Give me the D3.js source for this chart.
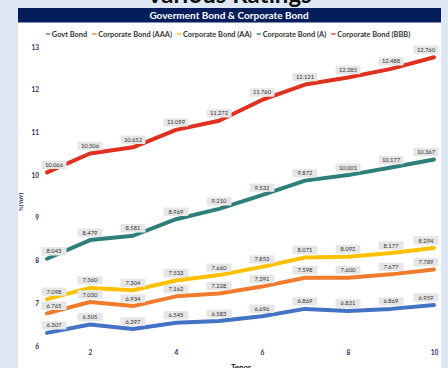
<!DOCTYPE html>
<html>
<head>
<meta charset="utf-8">
<script src="https://cdn.jsdelivr.net/npm/d3@7"></script>
<style>
  html, body { margin: 0; padding: 0; background: #dde8f4; }
  svg { display: block; }
</style>
</head>
<body>
<svg id="chart"></svg>
<script>
// tenor (years)
const tenors = [1, 2, 3, 4, 5, 6, 7, 8, 9, 10];

// yields per rating, %(YoY)
const govtBond = [6.307, 6.505, 6.397, 6.545, 6.583, 6.696, 6.869, 6.821, 6.869, 6.959];
const corpAAA  = [6.765, 7.030, 6.934, 7.162, 7.228, 7.391, 7.598, 7.600, 7.677, 7.789];
const corpAA   = [7.098, 7.360, 7.304, 7.533, 7.660, 7.853, 8.071, 8.092, 8.177, 8.294];
const corpA    = [8.043, 8.479, 8.581, 8.969, 9.210, 9.532, 9.872, 10.001, 10.177, 10.367];
const corpBBB  = [10.066, 10.506, 10.652, 11.059, 11.272, 11.760, 12.121, 12.285, 12.488, 12.760];

const seriesNames = ["Govt Bond", "Corporate Bond (AAA)", "Corporate Bond (AA)", "Corporate Bond (A)", "Corporate Bond (BBB)"];
const seriesValues = [govtBond, corpAAA, corpAA, corpA, corpBBB];

const yTicks = [6, 7, 8, 9, 10, 11, 12, 13];
const xTicks = [2, 4, 6, 8, 10];

const W = 448, H = 368;
const COLORS = ["#4472c4", "#f07b2c", "#ffc000", "#2e7f79", "#e0301f"];
const NAVY = "#1f2d5c";

const svg = d3.select("#chart").attr("width", W).attr("height", H);

// page title, mostly hidden above the panel
svg.append("text")
    .attr("x", 229).attr("y", 3)
    .attr("text-anchor", "middle")
    .attr("font-family", "Lato, sans-serif")
    .attr("font-weight", "bold")
    .attr("font-size", 24)
    .attr("fill", "#111")
    .text("Various Ratings");

// white panel
svg.append("rect")
    .attr("x", 18).attr("y", 8)
    .attr("width", 423).attr("height", H - 8)
    .attr("fill", "#fff");

// header bar
svg.append("rect")
    .attr("x", 18).attr("y", 8)
    .attr("width", 423).attr("height", 14.5)
    .attr("fill", "#041e5c");

svg.append("text")
    .attr("x", 229).attr("y", 19)
    .attr("text-anchor", "middle")
    .attr("font-family", "Lato, sans-serif")
    .attr("font-weight", "bold")
    .attr("font-size", 10)
    .attr("fill", "#fff")
    .text("Goverment Bond & Corporate Bond");

// legend
const legend = svg.append("g");
let lx = 0;
seriesNames.forEach((name, i) => {
    const item = legend.append("g").attr("transform", `translate(${lx},0)`);
    item.append("line")
        .attr("x1", 0).attr("x2", 4.5)
        .attr("y1", 0).attr("y2", 0)
        .attr("stroke", COLORS[i]).attr("stroke-width", 1.3);
    const t = item.append("text")
        .attr("x", 6).attr("y", 2.5)
        .attr("font-family", "Lato, sans-serif")
        .attr("font-size", 7.4)
        .attr("font-weight", "bold")
        .attr("fill", "#333")
        .text(name);
    lx += 6 + t.node().getComputedTextLength() + 5;
});
legend.attr("transform", `translate(${228 - (lx - 5) / 2},34)`);

// scales
const x = d3.scaleLinear().domain([1, 10]).range([47, 434]);
const y = d3.scaleLinear().domain([6, 13]).range([346, 47]);

// axes (labels only)
const yAxis = svg.append("g")
    .attr("transform", "translate(39,0)")
    .call(d3.axisLeft(y).tickValues(yTicks).tickSize(0).tickPadding(0).tickFormat(d3.format("d")));
const xAxis = svg.append("g")
    .attr("transform", "translate(0,350)")
    .call(d3.axisBottom(x).tickValues(xTicks).tickSize(0).tickPadding(0).tickFormat(d3.format("d")));
[yAxis, xAxis].forEach(ax => {
    ax.select(".domain").remove();
    ax.selectAll("text")
        .attr("font-family", "Lato, sans-serif")
        .attr("font-size", 6.5)
        .attr("font-weight", "bold")
        .attr("fill", NAVY);
});

svg.append("text")
    .attr("transform", "translate(23,202) rotate(-90)")
    .attr("text-anchor", "middle")
    .attr("font-family", "Lato, sans-serif")
    .attr("font-size", 6)
    .attr("font-weight", "bold")
    .attr("fill", NAVY)
    .text("%(YoY)");

svg.append("text")
    .attr("x", 241).attr("y", 370)
    .attr("text-anchor", "middle")
    .attr("font-family", "Lato, sans-serif")
    .attr("font-size", 8)
    .attr("font-weight", "bold")
    .attr("fill", "#111")
    .text("Tenor");

// lines
const line = d3.line()
    .x((d, i) => x(tenors[i]))
    .y(d => y(d));

svg.append("g")
    .selectAll("path")
    .data(seriesValues)
    .enter()
    .append("path")
    .attr("d", line)
    .attr("fill", "none")
    .attr("stroke", (d, i) => COLORS[i])
    .attr("stroke-width", 4)
    .attr("stroke-linejoin", "round")
    .attr("stroke-linecap", "round");

// data labels, end ones nudged inward
const labels = svg.append("g");
seriesValues.forEach(vals => {
    vals.forEach((v, i) => {
        const shift = i === 0 ? 7 : (i === vals.length - 1 ? -8 : 0);
        const cx = x(tenors[i]) + shift, cy = y(v) - 7.5;
        const g = labels.append("g").attr("transform", `translate(${cx},${cy})`);
        g.append("rect")
            .attr("x", -12.5).attr("y", -4.2)
            .attr("width", 25).attr("height", 8.4)
            .attr("rx", 1)
            .attr("fill", "#e6e6e6");
        g.append("text")
            .attr("y", 2)
            .attr("text-anchor", "middle")
            .attr("font-family", "Lato, sans-serif")
            .attr("font-size", 5.8)
            .attr("fill", "#333")
            .text(d3.format(".3f")(v));
    });
});
</script>
</body>
</html>
